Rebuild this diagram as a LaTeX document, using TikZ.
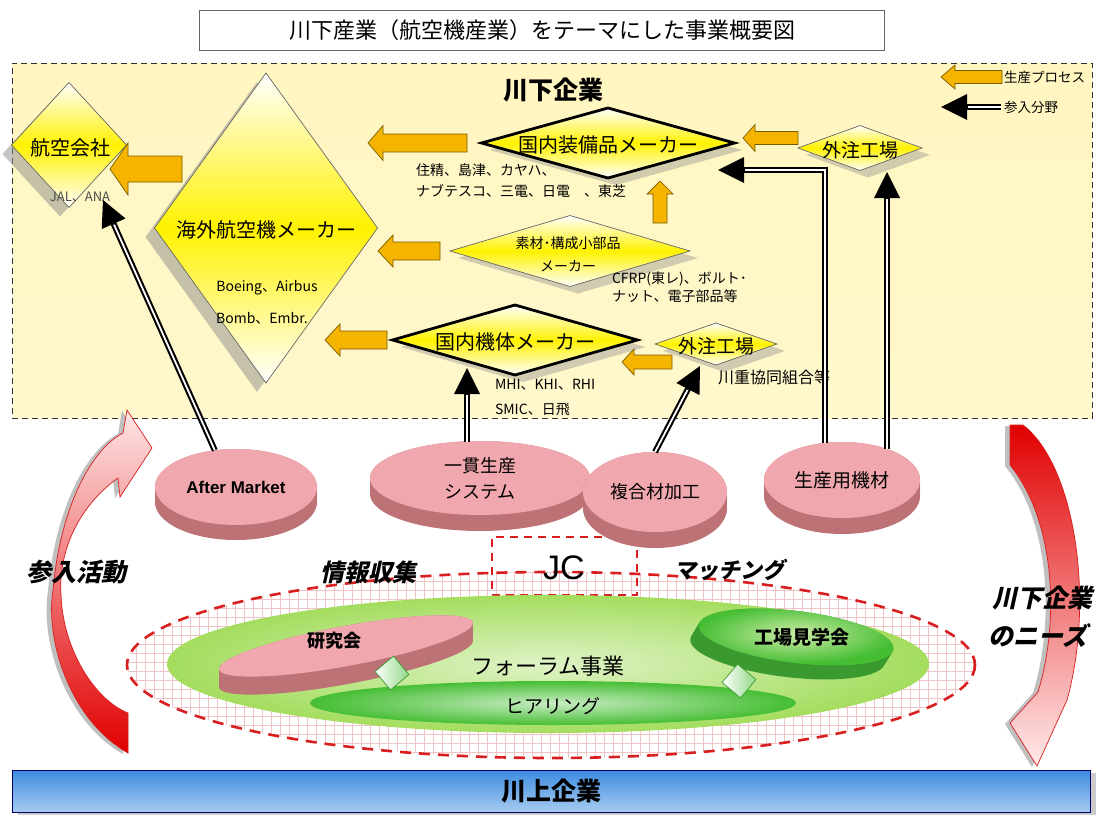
\documentclass[tikz,border=0pt]{standalone}
\usepackage{fontspec}
\setmainfont{Noto Sans CJK JP}
\newfontfamily\jpsl{Noto Sans CJK JP}[FakeSlant=0.22]
\newfontfamily\arialf{Liberation Sans}
\usetikzlibrary{shapes.geometric,arrows.meta,shadows,calc}
\definecolor{ygold}{HTML}{F4B400}
\definecolor{ygoldd}{HTML}{7A5C00}
\definecolor{dyel}{HTML}{FFF200}
\definecolor{bgyel}{HTML}{FFF6C0}
\definecolor{rose}{HTML}{BD7275}
\definecolor{pinkl}{HTML}{F0A8AE}
\definecolor{gridp}{HTML}{F0C4C6}
\definecolor{lgreen}{HTML}{A4DD5E}
\definecolor{mgreen}{HTML}{46BE34}
\definecolor{dgreen}{HTML}{3A9A30}
\definecolor{bbar}{HTML}{3C8CE0}
\definecolor{dred}{HTML}{D81E1E}

\newcommand\pdisk[8]{%
  \foreach \dd in {0,...,#6}{\fill[rose] (#2,#3+\dd) ellipse ({#4} and {#5});}
  \node[ellipse, minimum width=2*#4, minimum height=2*#5, top color=pinkl, middle color=white, bottom color=pinkl, align=center, font=#8] (#1) at (#2,#3) {#7};%
}
\newcommand\yarrL[6]{% tip x, y, length, shaft half, head half, head length
  \draw[yarrow] (#1,#2) -- ++({#6},{-#5}) -- ++(0,{#5-#4}) -- ++({#3-#6},0) -- ++(0,{2*#4}) -- ++({#6-#3},0) -- ++(0,{#5-#4}) -- cycle;}

\begin{document}
\begin{tikzpicture}[x=1pt,y=-1pt,
  every node/.style={inner sep=0pt,outer sep=0pt},
  fs/.style={font=\fontsize{#1}{#1}\selectfont},
  dia/.style={diamond, draw=black!60, line width=0.7pt, top color=white, bottom color=white, middle color=dyel},
  thickdia/.style={dia, draw=black, line width=2.8pt},
  shL/.style={drop shadow={shadow xshift=-9pt, shadow yshift=-9pt, fill=black!45, opacity=0.5}},
  shR/.style={drop shadow={shadow xshift=8pt, shadow yshift=-7pt, fill=black!45, opacity=0.4}},
  yarrow/.style={draw=ygoldd, line width=0.7pt, fill=ygold, line join=miter},
  entry/.style={line width=6pt, -{Triangle[length=26pt,width=26pt,line width=0pt]}, postaction={draw=white, line width=1.8pt, shorten >=27pt, arrows=-}},
  dlabel/.style={font=\jpsl\bfseries\fontsize{#1}{#1}\selectfont},
  redarrow/.style={draw=dred, line width=0.7pt, line join=miter, preaction={fill=black!25, transform canvas={shift={(-5pt,-1pt)}}}},
]
\useasboundingbox (0,0) rectangle (1103,814);
\fill[white] (0,0) rectangle (1103,814);

% ---------- title
\node[draw=black!60, line width=0.8pt, fill=white, minimum width=685, minimum height=40, fs=22] (title) at (542,30) {川下産業（航空機産業）をテーマにした事業概要図};

% ---------- downstream box
\node[draw=black!80, line width=1pt, dash pattern=on 6pt off 4pt, minimum width=1080, minimum height=355, top color=bgyel, middle color=bgyel!30, bottom color=bgyel!80] (downbox) at (552,240.5) {};
\node[font=\bfseries\fontsize{25}{25}\selectfont] (downt) at (553,90) {川下企業};

% legend
\yarrL{941}{77}{61}{6.5}{12}{14}
\node[fs=13.5, anchor=west] (lgt1) at (1004,77) {生産プロセス};
\coordinate (lgs) at (1001,107);
\coordinate (lge) at (941,107);
\draw[entry] (lgs) -- (lge);
\node[fs=13.5, anchor=west] (lgt2) at (1004,107) {参入分野};

% ---------- diamonds
\node[dia, shL, minimum width=115, minimum height=125] (koku) at (69,145) {};
\node[fs=20] (kokut) at (70,148) {航空会社};
\node[fs=13, text=black!70] (jal) at (80,197) {JAL、ANA};

\node[dia, shL, minimum width=223, minimum height=310] (kaigai) at (266,228) {};
\node[fs=20] (kaigait) at (266,230) {海外航空機メーカー};
\node[fs=14] (boeing) at (267,288) {Boeing、Airbus};
\node[fs=14] (bomb) at (262,318) {Bomb、Embr.};

\node[thickdia, shR, minimum width=253, minimum height=70] (souhin) at (608,143) {};
\node[fs=20] (souhint) at (608,145) {国内装備品メーカー};

\node[dia, shR, minimum width=240, minimum height=71] (sozai) at (570,251) {};
\node[font=\fontsize{14}{23}\selectfont, align=center] (sozait) at (568,254) {素材･構成小部品\\メーカー};

\node[thickdia, shR, minimum width=245, minimum height=70] (kitai) at (515,340) {};
\node[fs=20] (kitait) at (515,342) {国内機体メーカー};

\node[dia, shR, minimum width=122, minimum height=42] (gc2) at (716,344) {};
\node[fs=19] (gc2t) at (716,346) {外注工場};

\node[dia, shR, minimum width=124, minimum height=45] (gc1) at (860,148) {};
\node[fs=19] (gc1t) at (860,150) {外注工場};

% company lists
\node[fs=14, anchor=west] (sumi) at (416,170) {住精、島津、カヤハ、};
\node[fs=14, anchor=west] (nabu) at (416,191) {ナブテスコ、三電、日電　、東芝};
\node[fs=14, anchor=west] (cfrp) at (612,279) {CFRP(東レ)、ボルト･};
\node[fs=14, anchor=west] (natto) at (612,296) {ナット、電子部品等};
\node[fs=14, anchor=west] (mhi) at (495,385) {MHI、KHI、RHI};
\node[fs=14, anchor=west] (smic) at (495,409) {SMIC、日飛};
\node[fs=16, anchor=west] (kaw) at (718,377) {川重協同組合等};

% yellow process arrows
\yarrL{110}{169}{72}{13}{26}{18}
\yarrL{368}{143}{99}{9}{17.5}{15}
\yarrL{378}{251}{62}{9}{16}{15}
\yarrL{325}{340}{62}{9}{16}{15}
\yarrL{743}{138}{55}{6.5}{13.5}{12}
\yarrL{622}{362}{50}{7}{13}{12}
\draw[yarrow] (660,181) -- (673,194) -- (667,194) -- (667,223) -- (653,223) -- (653,194) -- (647,194) -- cycle;

% ---------- forum area
\node[ellipse, minimum width=848, minimum height=186, fill=white] (forum) at (551,665) {};
\begin{scope}
  \clip (551,665) ellipse (424 and 93);
  \foreach \gx in {127,136,...,980} \draw[gridp, line width=0.5pt] (\gx,568) -- (\gx,762);
  \foreach \gy in {572,581,...,762} \draw[gridp, line width=0.5pt] (125,\gy) -- (980,\gy);
\end{scope}
\node[draw=dred, line width=1.6pt, dash pattern=on 8pt off 6pt, minimum width=145, minimum height=58] (jcbox) at (564.5,566) {};

\node[ellipse, minimum width=762, minimum height=138, inner color=white!65!lgreen, outer color=lgreen] (forumg) at (548,664) {};
\node[ellipse, minimum width=486, minimum height=44, inner color=white!70!mgreen, outer color=mgreen] (hear) at (553,703) {};
\node[fs=22] (forumt) at (548,666) {フォーラム事業};
\node[fs=19] (heart) at (553,706) {ヒアリング};

% 研究会 disk
\foreach \dd in {0,...,18} \fill[rose, shift={(346,646+\dd)}, rotate=10.5] (0,0) ellipse (129 and 20);
\node[ellipse, rotate=10.5, minimum width=258, minimum height=40, top color=pinkl, middle color=white, bottom color=pinkl] (ken) at (346,646) {};
\node[font=\bfseries\fontsize{18}{18}\selectfont] (kent) at (334,641) {研究会};

% 工場見学会 disk
\foreach \dd in {0,...,14} \fill[dgreen, shift={(796-0.6*\dd,637+\dd)}, rotate=-7] (0,0) ellipse (98 and 26);
\node[ellipse, rotate=-7, minimum width=196, minimum height=52, inner color=white!45!lgreen, outer color=mgreen] (kojo) at (796,637) {};
\node[font=\bfseries\fontsize{19}{19}\selectfont] (kojot) at (802,637) {工場見学会};

% cubes
\node[draw=dgreen, line width=0.7pt, rotate=40, minimum size=24, left color=white, right color=mgreen!60] (cube1) at (392,673) {};
\node[draw=dgreen, line width=0.7pt, rotate=50, minimum size=24, left color=white, right color=mgreen!60] (cube2) at (739,681) {};

\draw[dred, line width=2.6pt, dash pattern=on 11pt off 8pt] (551,665) ellipse (424 and 93);
\node[font=\arialf\fontsize{34}{34}\selectfont] (jc) at (564,568) {JC};

\node[dlabel=24] (joho) at (368,572) {情報収集};
\node[dlabel=22] (match) at (729,570) {マッチング};

% ---------- pink disks
\pdisk{am}{236}{487}{81}{38}{15}{After Market}{\arialf\bfseries\fontsize{17}{17}\selectfont}
\pdisk{ik}{480}{478}{110}{37}{16}{一貫生産\\システム}{\fontsize{18}{26}\selectfont}
\pdisk{fk}{655}{492}{72}{40}{16}{複合材加工}{\fontsize{18}{18}\selectfont}
\pdisk{sy}{842}{480}{78}{38}{16}{生産用機材}{\fontsize{19}{19}\selectfont}

% ---------- entry connectors
\coordinate (kokuin) at (103,200);
\coordinate (kitaiin) at (467,368);
\coordinate (gc2in) at (700,366);
\coordinate (souhinin) at (718,170);
\coordinate (gc1in) at (887,172);
\draw[entry] (am.120) -- (kokuin);
\draw[entry] ($(ik.north)+(-13,1)$) -- (kitaiin);
\draw[entry] (fk.north) -- (gc2in);
\draw[entry] ($(sy.north)+(-17,1)$) |- (souhinin);
\draw[entry] ($(sy.north)+(45,7)$) -- (gc1in);

% ---------- red curved arrows
\draw[redarrow, top color=red!10, bottom color=red!88!black]
  (128,753) .. controls (70,720) and (45,640) .. (53,590)
  .. controls (60,510) and (90,450) .. (123,433)
  -- (127,410) -- (152,448) -- (120,497) -- (118,478)
  .. controls (80,505) and (58,550) .. (61,595)
  .. controls (63,650) and (95,700) .. (128,713) -- cycle;
\draw[redarrow, top color=red!88!black, bottom color=red!8]
  (1010,425) -- (1023,425) .. controls (1075,465) and (1095,600) .. (1067,700)
  -- (1037,766) -- (1010,723) -- (1038,692)
  .. controls (1060,620) and (1055,520) .. (1010,465) -- cycle;

\node[dlabel=25] (sannyu) at (77,572) {参入活動};
\node[dlabel=25] (needs1) at (1042,598) {川下企業};
\node[dlabel=25] (needs2) at (1038,636) {のニーズ};

% ---------- upstream bar
\node[draw=black!60!blue, line width=1pt, minimum width=1078, minimum height=42, top color=bbar, middle color=white, bottom color=bbar!45,
      drop shadow={shadow xshift=6pt, shadow yshift=-3pt, fill=black!40, opacity=0.5},
      font=\bfseries\fontsize{25}{25}\selectfont] (kawakami) at (551,791) {川上企業};
\end{tikzpicture}
\end{document}
